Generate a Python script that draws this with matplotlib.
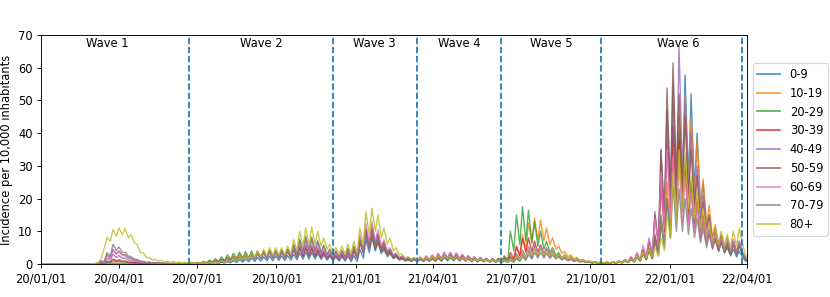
import numpy as np
import pandas as pd
import matplotlib
matplotlib.use("Agg")
import matplotlib.pyplot as plt
import matplotlib.dates as mdates

# Daily incidence per 10,000 inhabitants by age group.
# Values: one point at 2020-01-01, then from 2020-02-26
# one weekly high (Wednesday) and one weekend low (Sunday) per week.
age_groups = ["0-9", "10-19", "20-29", "30-39", "40-49", "50-59", "60-69", "70-79", "80+"]
start_date = "2020-01-01"
first_week = "2020-02-26"

inc_0_9 = [
    0, 0, 0, 0, 0, 0, 0.1, 0.1, 0.2, 0.1, 0.2, 0.1, 0.1, 0.1, 0.1, 0.1, 0.1, 0.05, 0.1, 0.05,
    0.1, 0.05, 0.1, 0.05, 0.1, 0.05, 0.1, 0.05, 0.1, 0.05, 0.1, 0.05, 0.1, 0.05, 0.1, 0.1, 0.2, 0.1, 0.2, 0.1,
    0.3, 0.2, 0.4, 0.2, 0.6, 0.3, 0.8, 0.4, 1.0, 0.5, 1.3, 0.6, 1.5, 0.7, 1.8, 0.8, 2.0, 0.9, 2.2, 1.0,
    2.4, 1.0, 2.5, 1.1, 2.5, 1.1, 2.6, 1.2, 3.0, 1.3, 3.4, 1.5, 3.6, 1.5, 3.5, 1.5, 3.2, 1.4, 2.8, 1.2,
    2.4, 1.0, 2.2, 0.9, 2.3, 0.9, 2.4, 0.8, 2.6, 0.8, 4.5, 1.8, 7.5, 3.5, 8.0, 4.0, 6.5, 3.2, 4.5, 2.2,
    3.2, 1.6, 2.2, 1.2, 1.6, 0.9, 1.3, 0.8, 1.3, 0.8, 1.4, 0.8, 1.5, 0.8, 1.6, 0.8, 1.8, 0.9, 2.0, 1.0,
    2.0, 1.0, 1.9, 1.0, 1.8, 0.9, 1.6, 0.8, 1.4, 0.7, 1.3, 0.7, 1.2, 0.6, 1.1, 0.6, 1.0, 0.5, 1.0, 0.5,
    1.3, 0.6, 2.0, 1.0, 3.0, 1.5, 4.0, 2.0, 4.8, 2.4, 5.0, 2.6, 4.5, 2.4, 3.8, 2.0, 3.0, 1.6, 2.5, 1.3,
    2.0, 1.0, 1.5, 0.8, 1.0, 0.5, 0.7, 0.4, 0.5, 0.3, 0.5, 0.3, 0.5, 0.3, 0.6, 0.3, 0.8, 0.4, 1.0, 0.5,
    1.6, 0.7, 2.5, 1.0, 3.5, 1.4, 4.5, 1.8, 7.0, 2.5, 12, 5, 20, 8, 35, 14, 45, 20, 57.8, 25,
    52, 22, 40, 17, 25, 11, 15, 7, 10, 5, 7, 3.5, 5, 2.5, 4.5, 2.2, 4, 2, 1.0, 0.5,
]
inc_10_19 = [
    0, 0, 0, 0, 0.1, 0.05, 0.2, 0.1, 0.3, 0.2, 0.3, 0.2, 0.2, 0.1, 0.2, 0.1, 0.1, 0.1, 0.1, 0.05,
    0.1, 0.05, 0.1, 0.05, 0.1, 0.05, 0.1, 0.05, 0.1, 0.05, 0.1, 0.05, 0.1, 0.05, 0.2, 0.1, 0.3, 0.1, 0.4, 0.2,
    0.6, 0.3, 0.8, 0.4, 1.2, 0.6, 1.6, 0.8, 2.0, 1.0, 2.4, 1.2, 2.8, 1.4, 3.2, 1.6, 3.6, 1.8, 3.8, 1.9,
    4.0, 2.0, 4.0, 2.0, 4.0, 2.0, 4.2, 2.1, 4.8, 2.4, 5.3, 2.6, 5.5, 2.7, 5.2, 2.6, 4.6, 2.3, 3.8, 1.9,
    3.0, 1.5, 2.7, 1.4, 3.0, 1.5, 3.5, 1.6, 4.0, 1.8, 7.0, 3.5, 10.5, 5.5, 11, 6, 9, 4.8, 6.5, 3.5,
    4.5, 2.5, 3.0, 1.7, 2.2, 1.3, 1.8, 1.1, 1.7, 1.0, 1.8, 1.0, 2.0, 1.1, 2.1, 1.1, 2.4, 1.3, 2.6, 1.4,
    2.6, 1.4, 2.4, 1.3, 2.2, 1.2, 2.0, 1.1, 1.8, 1.0, 1.6, 0.9, 1.5, 0.8, 1.5, 0.8, 1.6, 0.8, 2.0, 1.0,
    2.5, 1.2, 5.0, 2.5, 9.0, 4.5, 12.5, 6.5, 14, 7.5, 13.5, 7, 11, 6, 8, 4.5, 5.5, 3.2, 3.8, 2.2,
    2.8, 1.6, 2.0, 1.1, 1.4, 0.8, 0.9, 0.5, 0.6, 0.4, 0.5, 0.3, 0.5, 0.3, 0.6, 0.3, 0.8, 0.4, 1.2, 0.6,
    1.8, 0.8, 2.8, 1.2, 4.0, 1.6, 5.0, 2.0, 8.0, 3.0, 14, 6, 25, 10, 38, 16, 45, 20, 51.7, 23,
    45, 20, 38, 17, 26, 12, 18, 8, 12, 6, 9, 5, 7, 4, 7, 4, 6.5, 3.5, 2, 1,
]
inc_20_29 = [
    0, 0, 0, 0, 0.2, 0.1, 0.6, 0.4, 1.0, 0.7, 0.9, 0.6, 0.6, 0.4, 0.4, 0.3, 0.3, 0.2, 0.2, 0.1,
    0.2, 0.1, 0.1, 0.1, 0.1, 0.1, 0.1, 0.1, 0.1, 0.1, 0.2, 0.1, 0.2, 0.1, 0.3, 0.2, 0.5, 0.3, 0.8, 0.4,
    1.2, 0.6, 1.6, 0.8, 2.2, 1.1, 2.8, 1.4, 3.3, 1.7, 3.6, 1.8, 3.8, 1.9, 4.0, 2.0, 4.0, 2.0, 4.0, 2.0,
    4.0, 2.0, 3.9, 2.0, 3.8, 1.9, 4.0, 2.0, 4.5, 2.2, 5.0, 2.4, 5.0, 2.4, 4.8, 2.3, 4.2, 2.0, 3.5, 1.8,
    2.8, 1.4, 2.6, 1.3, 3.0, 1.5, 3.8, 1.7, 4.5, 2.0, 7.5, 3.8, 10, 5.5, 9.5, 5, 7.5, 4, 5.5, 3,
    3.8, 2.1, 2.6, 1.5, 2.0, 1.2, 1.7, 1.0, 1.6, 1.0, 1.7, 1.0, 1.9, 1.0, 2.0, 1.1, 2.3, 1.2, 2.5, 1.3,
    2.5, 1.3, 2.3, 1.2, 2.1, 1.1, 1.9, 1.0, 1.7, 0.9, 1.6, 0.9, 1.5, 0.8, 1.6, 0.8, 1.8, 0.9, 2.5, 1.2,
    10, 4, 15, 6, 17.5, 7, 16.5, 6.5, 13, 5.5, 10, 4.5, 7, 3.5, 5, 2.5, 3.5, 1.8, 2.8, 1.5,
    2.2, 1.2, 1.6, 0.9, 1.2, 0.7, 0.8, 0.5, 0.6, 0.4, 0.6, 0.3, 0.6, 0.3, 0.6, 0.3, 0.8, 0.4, 1.0, 0.5,
    1.4, 0.6, 2.0, 0.9, 3.0, 1.3, 4.0, 1.6, 8, 3, 30, 12, 47, 19, 50, 21, 40, 17, 32, 14,
    25, 11, 18, 8, 13, 6, 10, 5, 8, 4, 7, 3.5, 6, 3, 6, 3, 6, 3, 1.5, 0.8,
]
inc_30_39 = [
    0, 0, 0, 0, 0.3, 0.2, 0.9, 0.6, 1.5, 1.0, 1.3, 0.9, 0.9, 0.6, 0.6, 0.4, 0.4, 0.3, 0.3, 0.2,
    0.2, 0.1, 0.2, 0.1, 0.1, 0.1, 0.1, 0.1, 0.1, 0.1, 0.1, 0.1, 0.2, 0.1, 0.2, 0.1, 0.3, 0.2, 0.5, 0.3,
    0.8, 0.4, 1.1, 0.6, 1.5, 0.8, 2.0, 1.0, 2.4, 1.2, 2.8, 1.4, 3.0, 1.5, 3.3, 1.6, 3.5, 1.7, 3.6, 1.8,
    3.7, 1.8, 3.7, 1.8, 3.7, 1.8, 3.9, 1.9, 4.4, 2.1, 4.9, 2.3, 5.0, 2.4, 4.8, 2.3, 4.2, 2.0, 3.5, 1.7,
    2.8, 1.4, 2.5, 1.3, 2.8, 1.4, 3.3, 1.5, 4.0, 1.8, 6.5, 3.3, 8.8, 4.8, 9.0, 4.8, 7.2, 3.8, 5.2, 2.8,
    3.6, 2.0, 2.5, 1.4, 1.9, 1.1, 1.6, 1.0, 1.5, 0.9, 1.6, 0.9, 1.8, 1.0, 1.9, 1.0, 2.2, 1.1, 2.4, 1.2,
    2.4, 1.2, 2.2, 1.1, 2.0, 1.0, 1.8, 0.9, 1.6, 0.8, 1.5, 0.8, 1.4, 0.7, 1.4, 0.7, 1.5, 0.7, 1.9, 0.9,
    3.5, 1.6, 5.5, 2.6, 7.8, 3.6, 8.0, 3.8, 7.0, 3.5, 5.8, 3.0, 4.5, 2.4, 3.5, 1.9, 2.7, 1.5, 2.2, 1.2,
    1.7, 1.0, 1.3, 0.7, 1.0, 0.6, 0.7, 0.4, 0.6, 0.3, 0.5, 0.3, 0.5, 0.3, 0.6, 0.3, 0.8, 0.4, 1.1, 0.5,
    1.6, 0.7, 2.4, 1.0, 3.4, 1.4, 4.6, 1.8, 9, 3.5, 24, 10, 38, 15, 42, 18, 38, 16, 30, 13,
    25, 11, 20, 9, 15, 7, 11, 5, 8, 4, 7, 3.5, 6, 3, 6, 3, 5.5, 2.8, 1.5, 0.8,
]
inc_40_49 = [
    0, 0, 0, 0, 0.5, 0.3, 1.8, 1.2, 3.0, 2.0, 2.6, 1.8, 1.8, 1.2, 1.2, 0.8, 0.8, 0.5, 0.5, 0.3,
    0.4, 0.2, 0.3, 0.2, 0.2, 0.1, 0.2, 0.1, 0.1, 0.1, 0.1, 0.1, 0.2, 0.1, 0.2, 0.1, 0.3, 0.2, 0.4, 0.2,
    0.6, 0.3, 0.9, 0.5, 1.3, 0.7, 1.7, 0.9, 2.1, 1.1, 2.5, 1.3, 2.8, 1.4, 3.1, 1.6, 3.4, 1.7, 3.6, 1.8,
    3.8, 1.9, 3.8, 1.9, 3.8, 1.9, 4.1, 2.0, 4.9, 2.4, 5.7, 2.8, 6.0, 3.0, 5.8, 2.9, 5.0, 2.5, 4.1, 2.0,
    3.3, 1.6, 3.0, 1.5, 3.2, 1.6, 3.7, 1.7, 4.5, 2.0, 7.5, 3.8, 11, 6, 12, 6.5, 9.5, 5, 6.8, 3.6,
    4.6, 2.5, 3.1, 1.8, 2.3, 1.4, 1.9, 1.2, 1.8, 1.1, 2.0, 1.1, 2.2, 1.2, 2.4, 1.3, 2.8, 1.5, 3.0, 1.6,
    3.0, 1.6, 2.8, 1.5, 2.5, 1.3, 2.2, 1.2, 2.0, 1.0, 1.8, 1.0, 1.6, 0.9, 1.5, 0.8, 1.4, 0.8, 1.6, 0.8,
    2.2, 1.1, 3.2, 1.6, 4.3, 2.2, 5.3, 2.7, 6.0, 3.1, 5.8, 3.0, 5.0, 2.6, 4.0, 2.2, 3.2, 1.8, 2.5, 1.4,
    1.9, 1.1, 1.4, 0.8, 1.0, 0.6, 0.7, 0.4, 0.6, 0.3, 0.5, 0.3, 0.5, 0.3, 0.6, 0.3, 0.9, 0.4, 1.3, 0.6,
    2.0, 0.9, 3.0, 1.3, 4.5, 1.8, 7.5, 3.0, 16, 6, 35, 14, 45, 19, 55, 23, 66.4, 28, 50, 22,
    40, 18, 30, 14, 21, 10, 15, 7, 11, 5.5, 9, 4.5, 8, 4, 7.5, 3.8, 7, 3.5, 2, 1,
]
inc_50_59 = [
    0, 0, 0, 0, 0.8, 0.5, 2.8, 1.9, 4.5, 3.2, 4.0, 2.8, 2.8, 1.9, 1.8, 1.2, 1.1, 0.7, 0.7, 0.4,
    0.5, 0.3, 0.4, 0.2, 0.3, 0.2, 0.2, 0.1, 0.2, 0.1, 0.2, 0.1, 0.2, 0.1, 0.2, 0.1, 0.3, 0.2, 0.4, 0.2,
    0.6, 0.3, 0.9, 0.5, 1.2, 0.6, 1.6, 0.8, 2.0, 1.0, 2.4, 1.2, 2.7, 1.4, 3.0, 1.5, 3.4, 1.7, 3.7, 1.8,
    4.0, 2.0, 4.1, 2.0, 4.2, 2.1, 4.6, 2.3, 5.8, 2.9, 7.2, 3.6, 8.0, 4.0, 7.8, 3.9, 6.8, 3.4, 5.5, 2.8,
    4.3, 2.2, 3.8, 1.9, 4.0, 2.0, 4.5, 2.1, 5.2, 2.3, 8.0, 4.0, 10.5, 5.6, 11, 6, 9.0, 4.8, 6.5, 3.5,
    4.4, 2.4, 3.0, 1.7, 2.3, 1.4, 2.0, 1.2, 1.9, 1.1, 2.1, 1.2, 2.4, 1.3, 2.7, 1.4, 3.2, 1.6, 3.5, 1.8,
    3.5, 1.8, 3.3, 1.7, 2.9, 1.5, 2.5, 1.3, 2.2, 1.1, 2.0, 1.0, 1.8, 0.9, 1.6, 0.8, 1.4, 0.8, 1.5, 0.8,
    1.9, 1.0, 2.6, 1.3, 3.5, 1.8, 4.4, 2.3, 5.0, 2.6, 5.0, 2.6, 4.4, 2.3, 3.6, 2.0, 2.9, 1.6, 2.3, 1.3,
    1.8, 1.0, 1.3, 0.8, 1.0, 0.6, 0.7, 0.4, 0.6, 0.3, 0.5, 0.3, 0.5, 0.3, 0.6, 0.3, 0.9, 0.4, 1.3, 0.6,
    2.0, 0.9, 3.0, 1.3, 4.3, 1.8, 7.0, 2.8, 15, 6, 35, 14, 53.8, 22, 61.5, 26, 52, 22, 45, 20,
    35, 16, 27, 12, 19, 9, 14, 6.5, 10, 5, 8.5, 4.2, 7.5, 3.8, 7, 3.5, 6.5, 3.2, 2, 1,
]
inc_60_69 = [
    0, 0, 0, 0, 0.7, 0.5, 2.5, 1.7, 4.2, 3.0, 3.7, 2.6, 2.6, 1.8, 1.7, 1.1, 1.0, 0.7, 0.6, 0.4,
    0.5, 0.3, 0.4, 0.2, 0.3, 0.2, 0.2, 0.1, 0.2, 0.1, 0.2, 0.1, 0.2, 0.1, 0.2, 0.1, 0.2, 0.1, 0.3, 0.2,
    0.5, 0.3, 0.7, 0.4, 1.0, 0.5, 1.4, 0.7, 1.8, 0.9, 2.2, 1.1, 2.6, 1.3, 2.9, 1.4, 3.2, 1.6, 3.5, 1.7,
    3.7, 1.8, 3.8, 1.9, 4.0, 2.0, 4.4, 2.2, 5.5, 2.8, 6.8, 3.4, 7.5, 3.8, 7.3, 3.7, 6.4, 3.2, 5.2, 2.6,
    4.1, 2.1, 3.6, 1.8, 3.8, 1.9, 4.4, 2.1, 5.5, 2.4, 9.0, 4.5, 12.5, 6.7, 13, 7, 10.5, 5.6, 7.5, 4.0,
    5.0, 2.7, 3.4, 1.9, 2.5, 1.5, 2.1, 1.3, 2.0, 1.2, 2.2, 1.2, 2.5, 1.3, 2.8, 1.5, 3.3, 1.7, 3.6, 1.8,
    3.6, 1.8, 3.4, 1.7, 3.0, 1.5, 2.6, 1.3, 2.2, 1.1, 2.0, 1.0, 1.7, 0.9, 1.5, 0.8, 1.3, 0.7, 1.3, 0.7,
    1.6, 0.8, 2.4, 1.2, 3.4, 1.7, 4.6, 2.4, 5.5, 2.9, 5.4, 2.9, 4.7, 2.5, 3.8, 2.1, 3.0, 1.7, 2.4, 1.3,
    1.8, 1.0, 1.3, 0.8, 1.0, 0.6, 0.7, 0.4, 0.6, 0.3, 0.5, 0.3, 0.5, 0.3, 0.7, 0.3, 1.0, 0.5, 1.5, 0.7,
    2.4, 1.0, 3.6, 1.5, 5.8, 2.3, 8.0, 3.2, 14, 5.5, 28, 11, 35, 14, 33, 14, 30, 13, 27, 12,
    22, 10, 18, 8, 14, 6.5, 11, 5, 9, 4.5, 8, 4, 7.5, 3.8, 7, 3.5, 7, 3.5, 2, 1,
]
inc_70_79 = [
    0, 0, 0, 0, 1.0, 0.7, 3.5, 2.4, 6.0, 4.2, 5.2, 3.6, 3.6, 2.4, 2.3, 1.5, 1.4, 0.9, 0.8, 0.5,
    0.6, 0.4, 0.5, 0.3, 0.4, 0.2, 0.3, 0.2, 0.2, 0.1, 0.2, 0.1, 0.2, 0.1, 0.2, 0.1, 0.2, 0.1, 0.3, 0.2,
    0.4, 0.2, 0.6, 0.3, 0.9, 0.5, 1.2, 0.6, 1.6, 0.8, 2.0, 1.0, 2.3, 1.2, 2.7, 1.3, 3.0, 1.5, 3.3, 1.6,
    3.6, 1.8, 3.7, 1.8, 3.9, 1.9, 4.5, 2.2, 6.0, 3.0, 7.6, 3.8, 8.5, 4.2, 8.3, 4.1, 7.2, 3.6, 5.8, 2.9,
    4.6, 2.3, 4.0, 2.0, 4.2, 2.1, 4.8, 2.3, 5.5, 2.5, 7.5, 3.8, 9.2, 5, 9.5, 5.2, 8.0, 4.3, 6.0, 3.2,
    4.2, 2.3, 2.9, 1.7, 2.1, 1.3, 1.8, 1.1, 1.6, 1.0, 1.7, 1.0, 1.9, 1.0, 2.1, 1.1, 2.4, 1.3, 2.6, 1.4,
    2.6, 1.4, 2.4, 1.3, 2.2, 1.2, 1.9, 1.0, 1.6, 0.9, 1.4, 0.8, 1.2, 0.7, 1.1, 0.6, 1.0, 0.6, 1.0, 0.6,
    1.2, 0.6, 1.6, 0.8, 2.2, 1.1, 2.9, 1.5, 3.5, 1.8, 3.5, 1.8, 3.2, 1.7, 2.7, 1.5, 2.2, 1.2, 1.8, 1.0,
    1.4, 0.8, 1.1, 0.6, 0.8, 0.5, 0.6, 0.3, 0.5, 0.3, 0.4, 0.2, 0.4, 0.2, 0.5, 0.3, 0.7, 0.3, 1.0, 0.5,
    1.6, 0.7, 2.4, 1.0, 3.6, 1.5, 5.0, 2.0, 8, 3, 15, 6, 20, 8, 24, 10, 23, 10, 20, 9,
    17, 8, 14, 6.5, 11, 5, 9, 4.5, 7.5, 3.8, 7, 3.5, 6.5, 3.2, 6, 3, 6, 3, 1.5, 0.8,
]
inc_80_plus = [
    0, 0, 0.2, 0.5, 1.5, 5.0, 8.0, 7.0, 10.5, 8.5, 11.0, 9.0, 10.8, 8.0, 9.0, 6.5, 6.0, 3.5, 3.5, 2.0,
    2.0, 1.2, 1.5, 0.8, 1.2, 0.7, 0.8, 0.5, 0.8, 0.4, 0.6, 0.3, 0.5, 0.3, 0.5, 0.3, 0.4, 0.2, 0.4, 0.2,
    0.5, 0.3, 0.7, 0.4, 1.0, 0.5, 1.5, 0.8, 2.0, 1.0, 2.5, 1.3, 3.0, 1.6, 3.5, 2.0, 4.0, 2.2, 4.5, 2.5,
    5.0, 2.7, 5.0, 2.8, 5.0, 2.8, 5.5, 3.0, 7.5, 4.0, 10, 5.5, 11, 6, 11.3, 6, 10, 5.5, 8, 4.5,
    6, 3.5, 5, 3, 5.5, 3, 6, 3.2, 7, 3.5, 11, 6, 16, 9, 17, 10, 15, 8, 11, 6,
    8, 4, 5, 2.8, 3, 1.8, 2.2, 1.5, 2, 1.3, 2, 1.3, 2, 1.2, 2.2, 1.3, 2.5, 1.4, 2.5, 1.5,
    2.3, 1.4, 2.2, 1.3, 2, 1.2, 1.8, 1.1, 1.6, 1, 1.5, 0.9, 1.3, 0.8, 1.2, 0.8, 1.2, 0.7, 1.2, 0.7,
    1.6, 0.9, 2.5, 1.3, 3.5, 2, 4.5, 2.5, 4.8, 2.8, 4.5, 2.7, 4, 2.4, 3.5, 2.1, 3, 1.8, 2.5, 1.5,
    2, 1.2, 1.5, 0.9, 1.2, 0.7, 0.9, 0.5, 0.7, 0.4, 0.6, 0.4, 0.6, 0.4, 0.6, 0.4, 0.8, 0.5, 1, 0.6,
    1.5, 0.8, 2.5, 1.2, 3.5, 1.8, 4.5, 2.2, 5, 2.5, 8, 4, 15, 8, 28, 14, 35, 17, 34, 17,
    27, 14, 22, 11, 17, 9, 13, 7, 11, 6, 10, 5.5, 9, 5, 10, 5.5, 11, 6, 3, 1.5,
]

wave_lines = ["2020-06-21", "2020-12-06", "2021-03-13", "2021-06-19", "2021-10-13", "2022-03-26"]
wave_names = ["Wave 1", "Wave 2", "Wave 3", "Wave 4", "Wave 5", "Wave 6"]
wave_label_dates = ["2020-03-18", "2020-09-13", "2021-01-23", "2021-05-01", "2021-08-16", "2022-01-11"]

series = [inc_0_9, inc_10_19, inc_20_29, inc_30_39, inc_40_49,
          inc_50_59, inc_60_69, inc_70_79, inc_80_plus]


def make_dates(n):
    # high on Wednesday, low on the following Sunday
    steps = [0] + [4 if i % 2 == 0 else 3 for i in range(n - 1)]
    offsets = np.cumsum(steps)
    week_dates = pd.Timestamp(first_week) + pd.to_timedelta(offsets, unit="D")
    return [pd.Timestamp(start_date)] + list(week_dates)


fig, ax = plt.subplots(figsize=(10, 297 / 83), dpi=83)
fig.subplots_adjust(left=0.049, right=0.9, bottom=0.111, top=0.882)

for label, vals in zip(age_groups, series):
    ax.plot(make_dates(len(vals)), [0] + vals, lw=1.2, alpha=0.8, label=label)

for d in wave_lines:
    ax.axvline(pd.Timestamp(d), color="tab:blue", ls="--")

for name, d in zip(wave_names, wave_label_dates):
    ax.text(pd.Timestamp(d), 69.3, name, ha="center", va="top")

ax.set_xlim(pd.Timestamp("2020-01-01"), pd.Timestamp("2022-04-01"))
ax.set_ylim(0, 70)
ax.xaxis.set_major_locator(mdates.MonthLocator(bymonth=[1, 4, 7, 10]))
ax.xaxis.set_major_formatter(mdates.DateFormatter("%y/%m/%d"))
ax.set_ylabel("Incidence per 10,000 inhabitants")
leg = ax.legend(loc="center left", bbox_to_anchor=(1.0, 0.5))
for h in leg.get_lines():
    h.set_linewidth(1.5)

plt.savefig("out.png", dpi=83)
